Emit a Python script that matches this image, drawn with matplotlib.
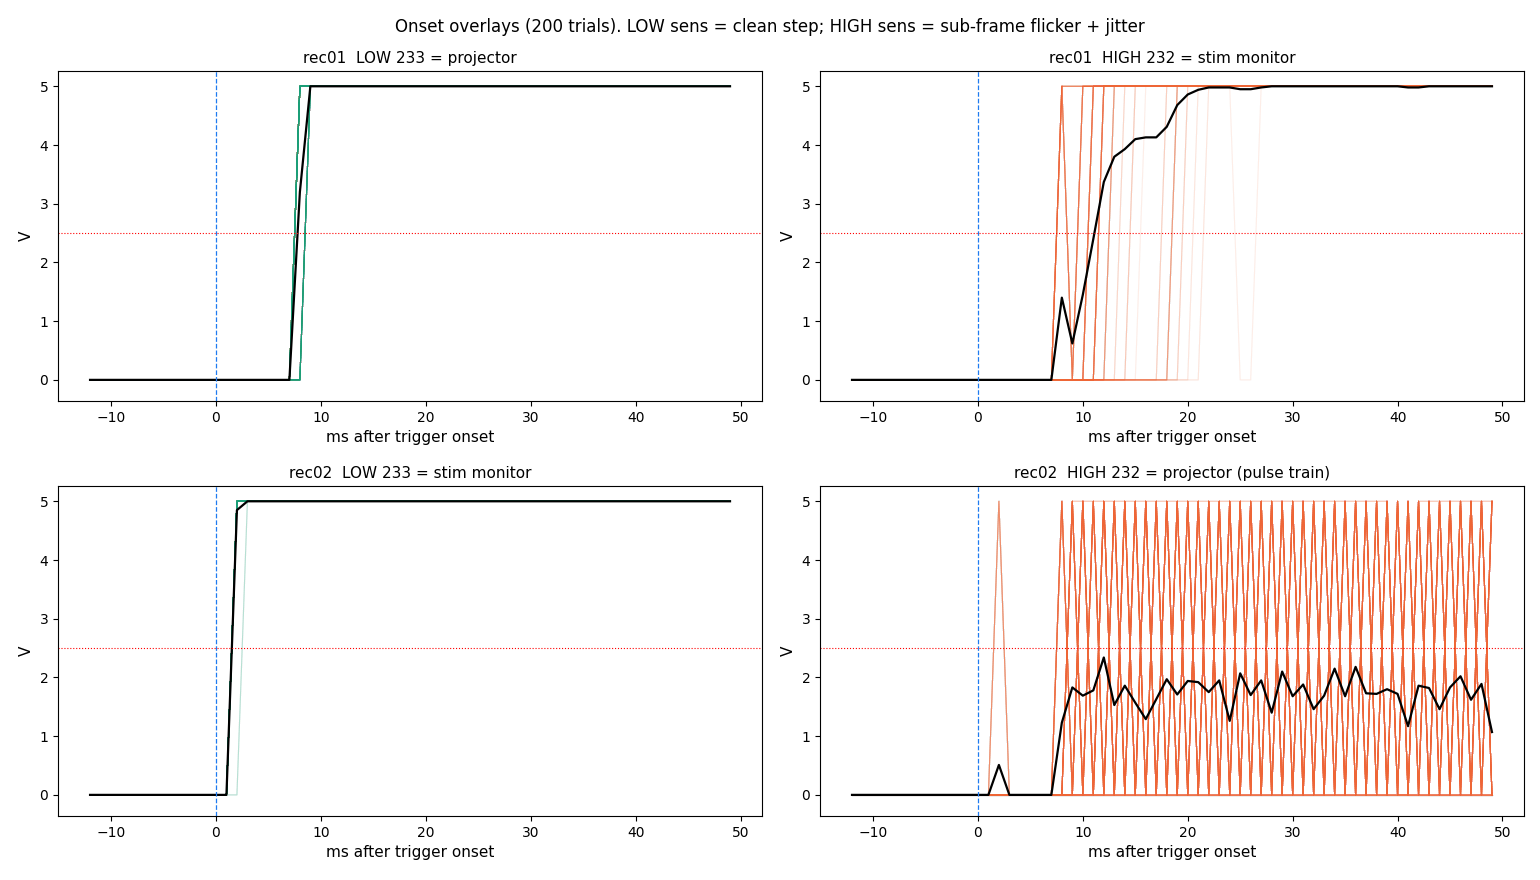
import numpy as np
import matplotlib.pyplot as plt

# frames (ms after trigger onset)
ms = list(range(-12, 50))

# mean traces (V)
mean_rec01_low = [0.0] * 20 + [3.2] + [5.0] * 41
mean_rec01_high = [0.0] * 20 + [1.4, 0.62, 1.45, 2.4, 3.37, 3.8, 3.93, 4.1, 4.13, 4.13,
                                4.31, 4.68, 4.86, 4.94, 4.98, 4.98, 4.98, 4.95, 4.95, 4.98] \
    + [5.0] * 13 + [4.98, 4.98] + [5.0] * 7
mean_rec02_low = [0.0] * 14 + [4.85] + [5.0] * 47
mean_rec02_high = [0.0] * 14 + [0.51] + [0.0] * 5 + [
    1.23, 1.83, 1.69, 1.78, 2.34, 1.53, 1.86, 1.57, 1.29, 1.63,
    1.97, 1.71, 1.94, 1.92, 1.75, 1.95, 1.26, 2.07, 1.70, 1.95,
    1.40, 2.10, 1.68, 1.88, 1.46, 1.69, 2.15, 1.68, 2.18, 1.73,
    1.72, 1.80, 1.72, 1.17, 1.86, 1.82, 1.46, 1.83, 2.02, 1.62,
    1.89, 1.07]

# trial groups: high intervals (frame on, frame off) and number of trials
rec01_low_onsets = [8, 9]
rec01_low_counts = [128, 72]
rec02_low_onsets = [2, 3]
rec02_low_counts = [194, 6]

rec01_high_intervals = [[(8, 50)], [(8, 9), (10, 50)], [(10, 50)], [(11, 50)], [(12, 50)],
                        [(13, 50)], [(14, 50)], [(15, 50)], [(16, 50)], [(18, 50)],
                        [(19, 50)], [(20, 50)], [(21, 50)],
                        [(22, 50)], [(22, 25), (27, 50)]]
rec01_high_counts = [25, 31, 2, 38, 39, 17, 5, 7, 2, 6, 16, 6, 3, 1, 2]

# pulse train: first high frame, period, trials
rec02_high_first = [8, 10, 9, 12, 13, 14]
rec02_high_period = [2, 2, 2, 3, 3, 3]
rec02_high_counts = [48, 22, 66, 6, 6, 5]
rec02_high_stuck = [(9, 40), (42, 50)]
rec02_high_stuck_count = 7
rec02_high_spike_frame = 2
rec02_high_spike_count = 20
rec02_high_flat_count = 20

LOW_COL = "#1b9e77"
HIGH_COL = "#ee6636"
LEVEL = 5.0


def trace_from_intervals(intervals):
    t = np.array(ms)
    v = np.zeros(len(ms))
    for on, off in intervals:
        v[(t >= on) & (t < off)] = LEVEL
    return v


def pulse_trace(first, period):
    t = np.array(ms)
    v = np.zeros(len(ms))
    v[(t >= first) & ((t - first) % period == 0)] = LEVEL
    return v


def draw_trials(ax, traces, counts, color):
    for tr, n in zip(traces, counts):
        for k in range(n):
            ax.plot(ms, tr, color=color, lw=0.8, alpha=0.06)


def finish(ax, mean, title):
    ax.plot(ms, mean, color="black", lw=1.6)
    ax.axvline(0, color="#1f7bf0", ls="--", lw=0.9)
    ax.axhline(2.5, color="red", ls=":", lw=0.8)
    ax.set_xlim(-15.05, 52.05)
    ax.set_ylim(-0.36, 5.26)
    ax.set_title(title, fontsize=11)
    ax.set_xlabel("ms after trigger onset", fontsize=11)
    ax.set_ylabel("V", fontsize=11)


fig, axes = plt.subplots(2, 2, figsize=(15.4, 8.8), dpi=100)
fig.subplots_adjust(left=0.0377, right=0.9896, bottom=0.0727, top=0.9193,
                    wspace=0.0824, hspace=0.2576)

ax = axes[0, 0]
draw_trials(ax, [trace_from_intervals([(o, 50)]) for o in rec01_low_onsets],
            rec01_low_counts, LOW_COL)
finish(ax, mean_rec01_low, "rec01  LOW 233 = projector")

ax = axes[0, 1]
draw_trials(ax, [trace_from_intervals(iv) for iv in rec01_high_intervals],
            rec01_high_counts, HIGH_COL)
finish(ax, mean_rec01_high, "rec01  HIGH 232 = stim monitor")

ax = axes[1, 0]
draw_trials(ax, [trace_from_intervals([(o, 50)]) for o in rec02_low_onsets],
            rec02_low_counts, LOW_COL)
finish(ax, mean_rec02_low, "rec02  LOW 233 = stim monitor")

ax = axes[1, 1]
pulses = [pulse_trace(f, p) for f, p in zip(rec02_high_first, rec02_high_period)]
stuck = trace_from_intervals(rec02_high_stuck)
spike = trace_from_intervals([(rec02_high_spike_frame, rec02_high_spike_frame + 1)])
flat = trace_from_intervals([])
draw_trials(ax, pulses + [stuck, spike, flat],
            rec02_high_counts + [rec02_high_stuck_count, rec02_high_spike_count,
                                 rec02_high_flat_count], HIGH_COL)
finish(ax, mean_rec02_high, "rec02  HIGH 232 = projector (pulse train)")

fig.suptitle("Onset overlays (200 trials). LOW sens = clean step; HIGH sens = sub-frame flicker + jitter",
             fontsize=12, y=0.98)
fig.savefig("out.png", dpi=100)
